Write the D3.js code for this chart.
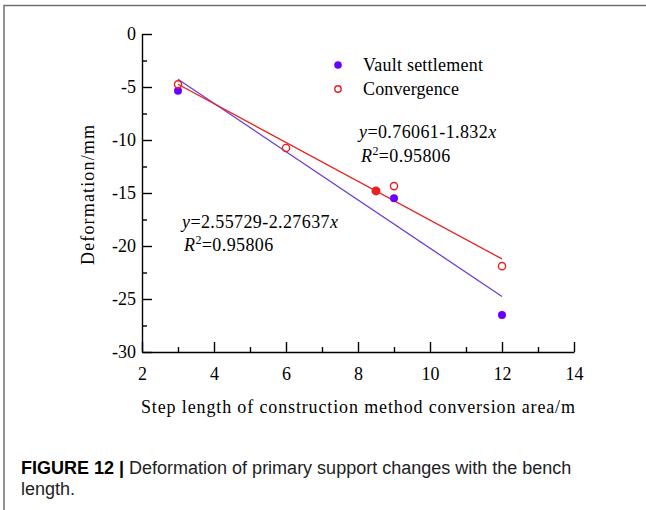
<!DOCTYPE html>
<html><head><meta charset="utf-8">
<script src="https://cdn.jsdelivr.net/npm/d3@7"></script>
<style>
html,body{margin:0;padding:0;background:#fff;}
svg{display:block;}
</style></head>
<body>
<svg id="c" width="646" height="510"></svg>
<script>
// ---- data ----
const xTickValues = [2, 4, 6, 8, 10, 12, 14];
const xMinorValues = [3, 5, 7, 9, 11, 13];
const yTickValues = [0, -5, -10, -15, -20, -25, -30];
const yMinorValues = [-2.5, -7.5, -12.5, -17.5, -22.5, -27.5];
const vaultX = [3, 9, 12];
const vaultY = [-5.35, -15.5, -26.5];
const convX = [3, 6, 9, 12];
const convY = [-4.75, -10.75, -14.35, -21.9];
const extraX = [8.5];
const extraY = [-14.8];
const fitX = [3, 12];
const vaultFitY = [-4.27, -24.76];
const convFitY = [-4.74, -21.22];
const legendLabels = ["Vault settlement", "Convergence"];
const legendWidths = [120, 96];
const xTitle = "Step length of construction method conversion area/m";
const yTitle = "Deformation/mm";

const svg = d3.select("#c");
const serif = "'Liberation Serif','Times New Roman',serif";
const sans = "'Liberation Sans',Arial,sans-serif";
const purple = "#6a00ff", purpleLine = "#6b3fd6", red = "#e8201e";

// frame
svg.append("path").attr("d","M4,510 V5.5 H646").attr("fill","none").attr("stroke","#707070").attr("stroke-width",1.5);

const x = d3.scaleLinear().domain([2,14]).range([142,574]);
const y = d3.scaleLinear().domain([0,-30]).range([34,352]);
const fmt = d => String(d);

const gx = svg.append("g").attr("transform","translate(0,352)");
gx.call(d3.axisBottom(x).tickValues(xTickValues).tickSize(-10).tickSizeOuter(0).tickPadding(15).tickFormat(fmt));
gx.append("g").call(d3.axisBottom(x).tickValues(xMinorValues).tickSize(-5).tickSizeOuter(0).tickFormat(""))
  .select(".domain").remove();
const gy = svg.append("g").attr("transform","translate(142,0)");
gy.call(d3.axisLeft(y).tickValues(yTickValues).tickSize(-10).tickSizeOuter(0).tickPadding(6).tickFormat(fmt));
gy.append("g").call(d3.axisLeft(y).tickValues(yMinorValues).tickSize(-5).tickSizeOuter(0).tickFormat(""))
  .select(".domain").remove();
svg.selectAll(".domain, .tick line").attr("stroke","#000").attr("stroke-width",1.4);
svg.selectAll(".tick text").attr("font-family",serif).attr("font-size",18).attr("fill","#000");

// fit lines
const line = d3.line().x(d=>x(d[0])).y(d=>y(d[1]));
svg.append("path").datum(fitX.map((v,i)=>[v,vaultFitY[i]])).attr("d",line)
  .attr("fill","none").attr("stroke",purpleLine).attr("stroke-width",1.3);
svg.append("path").datum(fitX.map((v,i)=>[v,convFitY[i]])).attr("d",line)
  .attr("fill","none").attr("stroke",red).attr("stroke-width",1.3);

// points
svg.selectAll(".v").data(vaultX.map((v,i)=>[v,vaultY[i]])).join("circle")
  .attr("cx",d=>x(d[0])).attr("cy",d=>y(d[1])).attr("r",4).attr("fill",purple);
svg.selectAll(".e").data(extraX.map((v,i)=>[v,extraY[i]])).join("circle")
  .attr("cx",d=>x(d[0])).attr("cy",d=>y(d[1])).attr("r",4.5).attr("fill",red);
svg.selectAll(".o").data(convX.map((v,i)=>[v,convY[i]])).join("circle")
  .attr("cx",d=>x(d[0])).attr("cy",d=>y(d[1])).attr("r",3.6).attr("fill","none").attr("stroke",red).attr("stroke-width",1.4);

// legend
const lg = svg.append("g");
lg.append("circle").attr("cx",338).attr("cy",65).attr("r",3.8).attr("fill",purple);
lg.append("circle").attr("cx",338).attr("cy",89).attr("r",3.2).attr("fill","none").attr("stroke",red).attr("stroke-width",1.4);
lg.selectAll("text").data(legendLabels).join("text")
  .attr("x",363).attr("y",(d,i)=>71+i*24).text(d=>d)
  .attr("textLength",(d,i)=>legendWidths[i]).attr("lengthAdjust","spacing")
  .attr("font-family",serif).attr("font-size",18).attr("fill","#000");

// equations
function eq(xp, yp, parts){
  const t = svg.append("text").attr("x",xp).attr("y",yp).attr("font-family",serif).attr("font-size",18)
    .attr("letter-spacing",0.4).attr("fill","#000");
  parts.forEach(p=>{
    const s = t.append("tspan").text(p.t);
    if(p.i) s.attr("font-style","italic");
    if(p.sup) s.attr("font-size",12).attr("dy",-7);
    if(p.down) s.attr("dy",7);
  });
}
eq(359,138,[{t:"y",i:1},{t:"=0.76061-1.832"},{t:"x",i:1}]);
eq(361,162,[{t:"R",i:1},{t:"2",sup:1},{t:"=0.95806",down:1}]);
eq(182,228,[{t:"y",i:1},{t:"=2.55729-2.27637"},{t:"x",i:1}]);
eq(184,251,[{t:"R",i:1},{t:"2",sup:1},{t:"=0.95806",down:1}]);

// axis titles
svg.append("text").attr("x",141).attr("y",413)
  .attr("textLength",434).attr("lengthAdjust","spacing")
  .attr("font-family",serif).attr("font-size",18).attr("fill","#000").text(xTitle);
svg.append("text").attr("transform","translate(94,265) rotate(-90)")
  .attr("textLength",140).attr("lengthAdjust","spacing")
  .attr("font-family",serif).attr("font-size",18).attr("fill","#000").text(yTitle);

// caption
const cap = svg.append("text").attr("x",21).attr("y",474).attr("font-family",sans).attr("font-size",18).attr("fill","#222");
cap.append("tspan").attr("font-weight","bold").attr("fill","#000").text("FIGURE 12 | ");
cap.append("tspan").text("Deformation of primary support changes with the bench");
svg.append("text").attr("x",21).attr("y",495).attr("font-family",sans).attr("font-size",18).attr("fill","#222").text("length.");
</script>
</body></html>
